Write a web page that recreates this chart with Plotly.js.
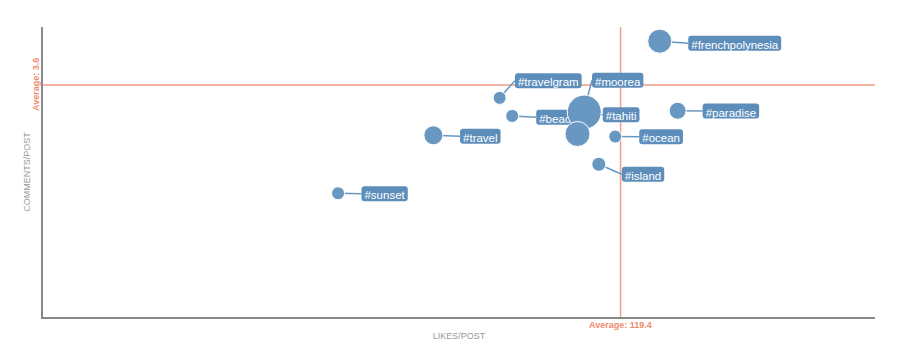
<!DOCTYPE html>
<html><head><meta charset="utf-8">
<script src="https://cdn.plot.ly/plotly-3.0.1.min.js"></script>
<style>html,body{margin:0;padding:0;background:#fff;} #chart{width:900px;height:355px;}</style>
</head><body><div id="chart"></div>
<script>
// ---- data ----
const hashtags = ['#frenchpolynesia','#travelgram','#beach','#tahiti','#moorea','#paradise','#travel','#ocean','#island','#sunset'];
const likesPerPost = [127.5, 94.4, 97.0, 111.9, 110.5, 131.2, 80.7, 118.3, 114.9, 61.0];
const commentsPerPost = [4.28, 3.40, 3.12, 3.18, 2.84, 3.20, 2.82, 2.80, 2.37, 1.92];
const postVolume = [24, 13, 13, 34, 25, 17, 19, 13, 14, 13];
const avgLikes = 119.4;
const avgComments = 3.6;

// ---- label placement (pixel offsets from the point: box left edge, box centre; down = positive) ----
const labelDX = [28.5, 15.3, 24, 18.5, 14.5, 25, 26.7, 24, 23, 23.4];
const labelDY = [2, -17.2, 1.3, 2.7, -53.8, 0.3, 1, 0.3, 10, 0.5];

const BUBBLE = '#6898c2', LABEL_BG = '#5d8ebb', AVG = '#f39c86', AVG_TXT = '#ef8a6e';
const FONT = 'Liberation Sans, Arial, sans-serif';
const LABEL_SIZE = 11.5, PAD = 3, BOX_H = 15, R = 3;

const ctx = document.createElement('canvas').getContext('2d');
ctx.font = LABEL_SIZE + "px 'Liberation Sans', Arial";

const shapes = [
  {type:'line', xref:'x', yref:'paper', x0:avgLikes, x1:avgLikes, y0:0, y1:1, layer:'below', line:{color:AVG, width:1.5}},
  {type:'line', xref:'paper', yref:'y', x0:0, x1:1, y0:avgComments, y1:avgComments, layer:'below', line:{color:AVG, width:1.5}}
];
// leader lines
hashtags.forEach((t, i) => {
  shapes.push({type:'line', xref:'x', yref:'y', xsizemode:'pixel', ysizemode:'pixel',
    xanchor: likesPerPost[i], yanchor: commentsPerPost[i],
    x0:0, y0:0, x1:labelDX[i], y1:-labelDY[i], layer:'below', line:{color:BUBBLE, width:1.5}});
});
// label boxes
hashtags.forEach((t, i) => {
  const w = ctx.measureText(t).width + 2 * PAD;
  const L = labelDX[i], Rt = L + w, T = -labelDY[i] + BOX_H / 2, B = -labelDY[i] - BOX_H / 2;
  const p = `M${L+R},${T} L${Rt-R},${T} Q${Rt},${T} ${Rt},${T-R} L${Rt},${B+R} Q${Rt},${B} ${Rt-R},${B} ` +
            `L${L+R},${B} Q${L},${B} ${L},${B+R} L${L},${T-R} Q${L},${T} ${L+R},${T} Z`;
  shapes.push({type:'path', xref:'x', yref:'y', xsizemode:'pixel', ysizemode:'pixel',
    xanchor: likesPerPost[i], yanchor: commentsPerPost[i], path:p, layer:'below',
    fillcolor:LABEL_BG, line:{width:0},
    label:{text:t, textposition:'middle center', font:{family:FONT, size:LABEL_SIZE, color:'#ffffff'}}});
});

const trace = {
  type:'scatter', mode:'markers', x:likesPerPost, y:commentsPerPost, text:hashtags,
  hovertemplate:'%{text}<br>Likes/post: %{x}<br>Comments/post: %{y}<extra></extra>',
  marker:{size:postVolume, sizemode:'diameter', color:BUBBLE, opacity:1, line:{color:'#ffffff', width:1}}
};

const layout = {
  width:900, height:355,
  margin:{l:43, r:25, t:27, b:38},
  paper_bgcolor:'#fff', plot_bgcolor:'#fff',
  font:{family:FONT},
  showlegend:false,
  xaxis:{range:[0,172], showline:true, linecolor:'#888', linewidth:1.5, showgrid:false, zeroline:false,
    showticklabels:false, ticks:'', fixedrange:true,
    title:{text:'LIKES/POST', font:{size:9, color:'#999', family:FONT}, standoff:15}},
  yaxis:{range:[0,4.5], showline:true, linecolor:'#888', linewidth:1.5, showgrid:false, zeroline:false,
    showticklabels:false, ticks:'', fixedrange:true,
    title:{text:'COMMENTS/POST', font:{size:9, color:'#999', family:FONT}, standoff:9}},
  shapes:shapes,
  annotations:[
    {text:'<b>Average: ' + avgLikes + '</b>', xref:'x', yref:'paper', x:avgLikes, y:0, yanchor:'top', xanchor:'center',
     yshift:-1, showarrow:false, font:{size:9, color:AVG_TXT, family:FONT}},
    {text:'<b>Average: ' + avgComments + '</b>', xref:'paper', yref:'y', x:0, y:avgComments, xanchor:'right', yanchor:'middle',
     xshift:0, textangle:-90, showarrow:false, font:{size:9, color:AVG_TXT, family:FONT}}
  ]
};

Plotly.newPlot('chart', [trace], layout, {displayModeBar:false, staticPlot:false});
</script>
</body></html>
